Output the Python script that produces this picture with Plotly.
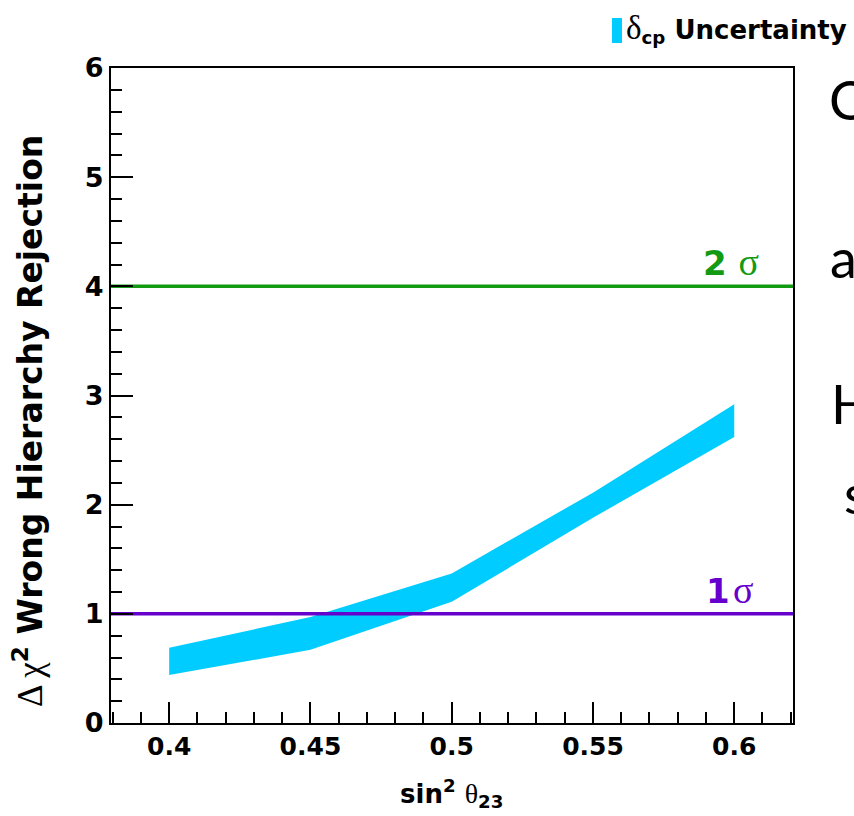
import plotly.graph_objects as go

# Wrong-hierarchy sensitivity band versus sin^2(theta_23); width from delta_CP
sin2_theta23 = [0.40, 0.45, 0.50, 0.55, 0.60]
dchi2_upper = [0.69, 0.97, 1.37, 2.11, 2.92]
dchi2_lower = [0.44, 0.67, 1.11, 1.88, 2.62]

# Reference significance levels
sigma_levels = [1, 4]
sigma_names = ["1", "2"]
sigma_colors = ["#6600cc", "#139a13"]

x_tickvals = [0.40, 0.45, 0.50, 0.55, 0.60]
x_ticktext = ["0.4", "0.45", "0.5", "0.55", "0.6"]
y_tickvals = [0, 1, 2, 3, 4, 5, 6]
y_ticktext = ["0", "1", "2", "3", "4", "5", "6"]

X_RANGE = [0.3794, 0.6208]
Y_RANGE = [0, 6]

W, H = 854, 816
ML, MR, MT, MB = 111, 61, 68, 93
PW, PH = W - ML - MR, H - MT - MB

SANS = "DejaVu Sans"
SERIF = "Liberation Serif"
BAND = "#00ccff"


def pxx(x):
    return (x - ML) / PW


def pxy(y):
    return (H - MB - y) / PH


def greek(s, size=None):
    extra = f";font-size:{size}px" if size else ""
    return (f'<span style="font-family:\'{SERIF}\';font-weight:normal{extra}">'
            f'{s}</span>')


fig = go.Figure()

# delta_CP uncertainty band
fig.add_trace(go.Scatter(
    x=sin2_theta23 + sin2_theta23[::-1],
    y=dchi2_upper + dchi2_lower[::-1],
    fill="toself", fillcolor=BAND, mode="lines", line=dict(width=0),
    hoverinfo="skip", showlegend=False,
))

# horizontal significance lines
for lvl, col in zip(sigma_levels, sigma_colors):
    fig.add_trace(go.Scatter(
        x=X_RANGE, y=[lvl, lvl], mode="lines",
        line=dict(color=col, width=3.5), hoverinfo="skip", showlegend=False,
    ))

annotations = []
for lvl, name, col in zip(sigma_levels, sigma_names, sigma_colors):
    if name == "2":
        sep, xr = " ", 0.6094
    else:
        sep, xr = "\u200a", 0.6076
    annotations.append(dict(
        x=xr, y=lvl, xref="x", yref="y", xanchor="right", yanchor="bottom",
        yshift=1, showarrow=False,
        text=f"{name}{sep}{greek('σ', 38)}",
        font=dict(family=SANS, size=34, color=col, weight="bold"),
    ))

# axis titles
annotations.append(dict(
    x=pxx(451), y=pxy(793), xref="paper", yref="paper",
    xanchor="center", yanchor="middle", showarrow=False,
    text=f"sin<sup>2</sup> {greek('θ', 28)}<sub>23</sub>",
    font=dict(family=SANS, size=26, color="black", weight="bold"),
))
annotations.append(dict(
    x=pxx(28), y=pxy(421), xref="paper", yref="paper",
    xanchor="center", yanchor="middle", showarrow=False, textangle=-90,
    text=f"{greek('Δ χ', 35)}<sup>2</sup> Wrong Hierarchy Rejection",
    font=dict(family=SANS, size=33, color="black", weight="bold"),
))

# legend entry
annotations.append(dict(
    x=pxx(624), y=pxy(29), xref="paper", yref="paper",
    xanchor="left", yanchor="middle", showarrow=False,
    text=f"{greek('δ', 33)}<sub>cp</sub> Uncertainty",
    font=dict(family=SANS, size=26, color="black", weight="bold"),
))

# slide text running past the right edge
for letter, x0, yc in [("C", 827, 99), ("a", 828, 257), ("H", 829, 404), ("s", 842, 494)]:
    annotations.append(dict(
        x=pxx(x0), y=pxy(yc), xref="paper", yref="paper",
        xanchor="left", yanchor="middle", showarrow=False,
        text=letter, font=dict(family="Lato", size=54, color="black"),
    ))

shapes = [dict(
    type="rect", xref="paper", yref="paper",
    x0=pxx(612), x1=pxx(622), y0=pxy(43), y1=pxy(18),
    fillcolor=BAND, line=dict(width=0),
)]

axis_common = dict(
    showgrid=False, zeroline=False, showline=True, linecolor="black",
    linewidth=2, mirror=True, ticks="inside", tickcolor="black", tickwidth=2,
)

fig.update_layout(
    width=W, height=H,
    margin=dict(l=ML, r=MR, t=MT, b=MB, pad=0),
    paper_bgcolor="white", plot_bgcolor="white",
    xaxis=dict(
        range=X_RANGE, tickmode="array", tickvals=x_tickvals, ticktext=x_ticktext,
        ticklen=21, tickfont=dict(family=SANS, size=25, color="black", weight="bold"),
        minor=dict(dtick=0.01, tick0=0.4, ticks="inside", ticklen=11,
                   tickwidth=2, tickcolor="black", showgrid=False),
        **axis_common,
    ),
    yaxis=dict(
        range=Y_RANGE, tickmode="array", tickvals=y_tickvals, ticktext=y_ticktext,
        ticklen=22, tickfont=dict(family=SANS, size=27, color="black", weight="bold"),
        minor=dict(dtick=0.2, tick0=0, ticks="inside", ticklen=11,
                   tickwidth=2, tickcolor="black", showgrid=False),
        **axis_common,
    ),
    annotations=annotations,
    shapes=shapes,
    showlegend=False,
)

fig.write_html("out.html")
